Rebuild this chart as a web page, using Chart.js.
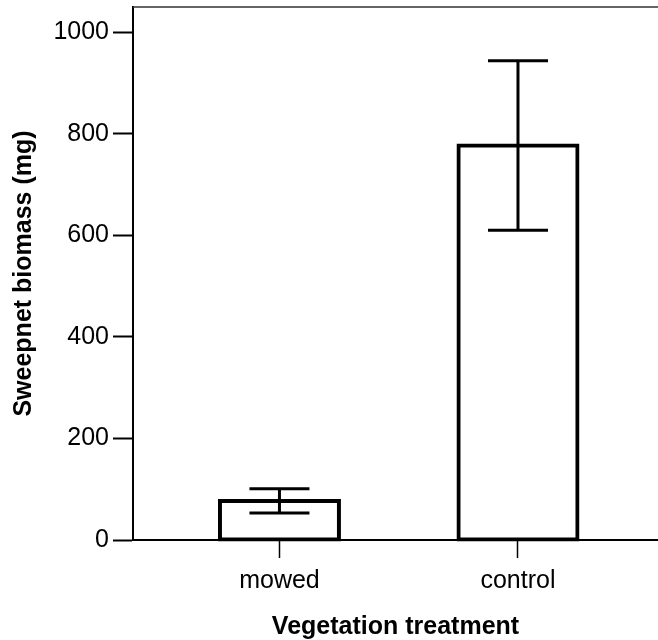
<!DOCTYPE html>
<html>
<head>
<meta charset="utf-8">
<script src="https://cdn.jsdelivr.net/npm/chart.js@4.4.1/dist/chart.umd.min.js"></script>
<style>
html, body { margin: 0; padding: 0; background: #fff; }
canvas { display: block; }
</style>
</head>
<body>
<canvas id="chart" width="658" height="640"></canvas>
<script>
// ===== data =====
const categories = ['mowed', 'control'];
const biomass = [77, 777];
const errors = [24, 167];
const yTicks = [0, 200, 400, 600, 800, 1000];

const FONT = 'Arial, "Liberation Sans", Helvetica, sans-serif';

// error bars with caps, drawn over the bars
const errorBars = {
  id: 'errorBars',
  afterDatasetsDraw(chart) {
    const { ctx, scales: { x, y } } = chart;
    ctx.save();
    ctx.strokeStyle = '#000';
    ctx.lineWidth = 3;
    biomass.forEach((v, i) => {
      const cx = x.getPixelForValue(i + 1);
      const hi = y.getPixelForValue(v + errors[i]);
      const lo = y.getPixelForValue(v - errors[i]);
      ctx.beginPath();
      ctx.moveTo(cx, hi); ctx.lineTo(cx, lo);
      ctx.moveTo(cx - 30, hi); ctx.lineTo(cx + 30, hi);
      ctx.moveTo(cx - 30, lo); ctx.lineTo(cx + 30, lo);
      ctx.stroke();
    });
    ctx.restore();
  }
};

// thin frame line along the top of the plot
const topLine = {
  id: 'topLine',
  afterDraw(chart) {
    const { ctx, chartArea: a } = chart;
    ctx.save();
    ctx.strokeStyle = '#333';
    ctx.lineWidth = 1.5;
    ctx.beginPath();
    ctx.moveTo(a.left, a.top);
    ctx.lineTo(a.right, a.top);
    ctx.stroke();
    ctx.restore();
  }
};

new Chart(document.getElementById('chart'), {
  type: 'bar',
  data: {
    datasets: [{
      data: categories.map((c, i) => ({ x: i + 1, y: biomass[i] })),
      backgroundColor: '#fff',
      borderColor: '#000',
      borderWidth: 4,
      borderSkipped: false,
      inflateAmount: 2,
      barThickness: 119,
      clip: false
    }]
  },
  options: {
    responsive: false,
    animation: false,
    layout: { padding: { top: 7, left: 0, right: 0, bottom: 0 } },
    plugins: { legend: { display: false }, tooltip: { enabled: false } },
    scales: {
      x: {
        type: 'linear',
        min: 0.386,
        max: 2.587,
        offset: false,
        afterBuildTicks: s => { s.ticks = categories.map((c, i) => ({ value: i + 1 })); },
        afterFit: s => { s.height = 100; s.paddingLeft = 0; s.paddingRight = 0; },
        grid: { offset: false, drawOnChartArea: false, tickLength: 18, tickWidth: 1.5, tickColor: '#000' },
        border: { color: '#000', width: 2 },
        ticks: {
          callback: v => categories[v - 1],
          color: '#000',
          font: { family: FONT, size: 25 },
          padding: 8,
          maxRotation: 0,
          autoSkip: false
        },
        title: {
          display: true,
          text: 'Vegetation treatment',
          color: '#000',
          font: { family: FONT, size: 25, weight: 'bold', lineHeight: 1 },
          padding: 0
        }
      },
      y: {
        min: 0,
        max: 1050,
        afterBuildTicks: s => { s.ticks = yTicks.map(v => ({ value: v })); },
        afterFit: s => { s.width = 133; s.paddingTop = 0; s.paddingBottom = 0; },
        grid: { drawOnChartArea: false, tickLength: 20, tickWidth: 2, tickColor: '#000' },
        border: { color: '#000', width: 2 },
        ticks: {
          callback: v => String(v),
          color: '#000',
          font: { family: FONT, size: 25 },
          padding: 4
        },
        title: {
          display: true,
          text: 'Sweepnet biomass (mg)',
          color: '#000',
          font: { family: FONT, size: 25, weight: 'bold', lineHeight: 1.2 },
          padding: { top: 9, bottom: 0 }
        }
      }
    }
  },
  plugins: [errorBars, topLine]
});
</script>
</body>
</html>
